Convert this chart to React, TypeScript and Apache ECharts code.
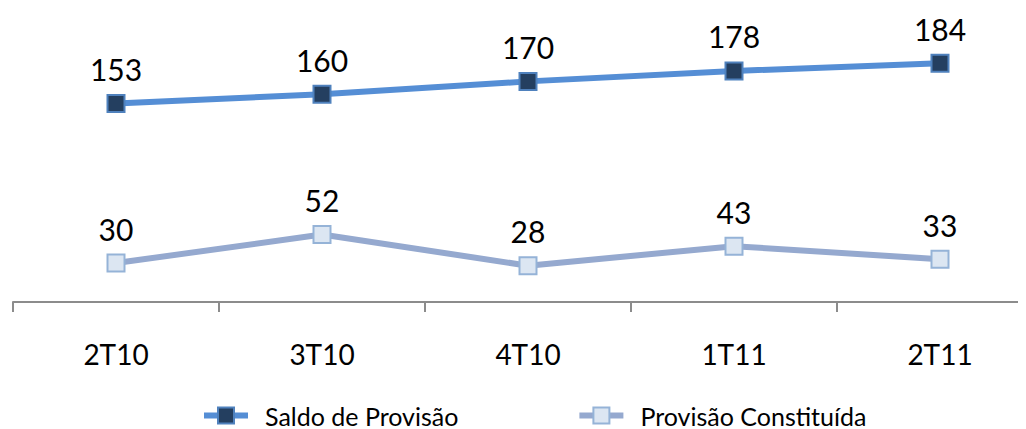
import React, { useEffect, useRef } from "react";
import * as echarts from "echarts";

const categories = ["2T10", "3T10", "4T10", "1T11", "2T11"];
const saldoValues = [153, 160, 170, 178, 184];
const provisaoValues = [30, 52, 28, 43, 33];
const seriesNames = ["Saldo de Provisão", "Provisão Constituída"];

const FONT = "Lato, 'Open Sans', sans-serif";

export default function App() {
  const ref = useRef<HTMLDivElement>(null);
  useEffect(() => {
    if (!ref.current) return;
    const chart = echarts.init(ref.current, undefined, { renderer: "svg" });
    chart.setOption({
      animation: false,
      backgroundColor: "#ffffff",
      textStyle: { fontFamily: FONT },
      grid: { left: 13, right: 0, top: 10, bottom: 127, containLabel: false },
      legend: {
        top: 398,
        left: 196,
        itemWidth: 44,
        itemHeight: 20,
        itemGap: 118,
        lineStyle: { width: 6 },
        textStyle: { fontSize: 25, lineHeight: 24, color: "#000", fontFamily: FONT, padding: [0, 0, 0, 12] },
        data: seriesNames,
      },
      xAxis: {
        type: "category",
        data: categories,
        boundaryGap: true,
        axisLine: { show: true, lineStyle: { color: "#8c8c8c", width: 2 } },
        axisTick: { show: true, length: 10, lineStyle: { color: "#8c8c8c", width: 2 } },
        axisLabel: { fontSize: 28, color: "#000", margin: 38, fontFamily: FONT },
      },
      yAxis: {
        type: "value",
        min: 0,
        max: 225,
        show: false,
        splitLine: { show: false },
      },
      series: [
        {
          name: seriesNames[0],
          type: "line",
          data: saldoValues,
          symbol: "rect",
          symbolSize: 17,
          lineStyle: { color: "#558ed5", width: 6 },
          itemStyle: { color: "#243f60", borderColor: "#4f81bd", borderWidth: 2 },
          label: { show: true, position: "top", distance: 10, fontSize: 30, color: "#000", fontFamily: FONT },
        },
        {
          name: seriesNames[1],
          type: "line",
          data: provisaoValues,
          symbol: "rect",
          symbolSize: 17,
          lineStyle: { color: "#95a9cf", width: 6 },
          itemStyle: { color: "#dce6f2", borderColor: "#95b3d7", borderWidth: 2 },
          label: { show: true, position: "top", distance: 10, fontSize: 30, color: "#000", fontFamily: FONT },
        },
      ],
    });
    return () => chart.dispose();
  }, []);
  return (
    <div style={{ width: 1026, height: 429, overflow: "hidden", marginLeft: -8, marginTop: -8 }}>
      <div ref={ref} style={{ width: 1043, height: 429 }} />
    </div>
  );
}
